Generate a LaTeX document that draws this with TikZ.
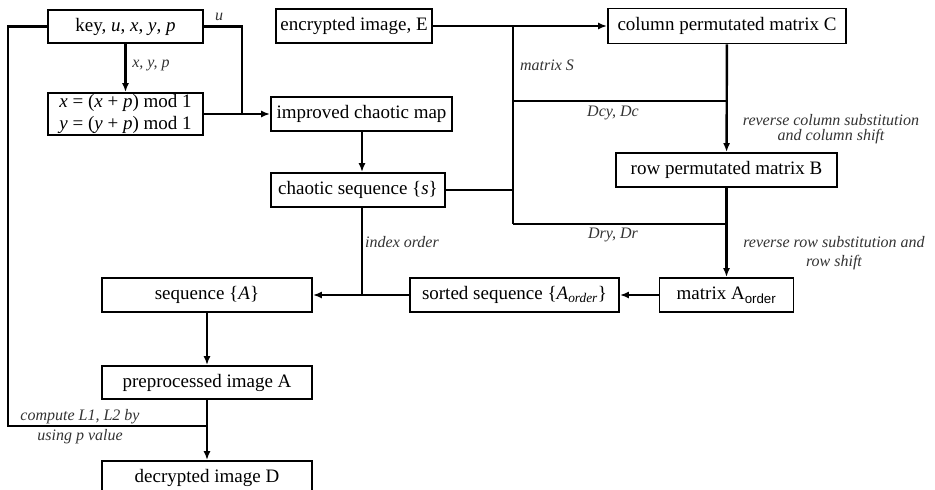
\documentclass[tikz,border=0pt]{standalone}
\usepackage{fontspec}
\setmainfont{Liberation Serif}
\setsansfont{Liberation Sans}
\usetikzlibrary{arrows.meta}
\begin{document}
\begin{tikzpicture}[x=1pt,y=-1pt,
  box/.style={draw, line width=1.8pt, inner sep=0pt, font=\fontsize{19}{22}\selectfont, align=center},
  lab/.style={font=\fontsize{16}{17}\selectfont\itshape, inner sep=0pt, text=black!80},
  conn/.style={line width=2.4pt},
  arr/.style={line width=2.4pt, -{Latex[length=9pt,width=7pt]}}]
\useasboundingbox (0,0) rectangle (935,490);
\clip (0,0) rectangle (935,490);
% boxes
\node[box, minimum width=155pt, minimum height=33pt] (key) at (125.5,26.5) {key, \textit{u}, \textit{x}, \textit{y}, \textit{p}};
\node[box, minimum width=155pt, minimum height=42pt] (mod) at (125.5,114) {\textit{x} = (\textit{x} + \textit{p}) mod 1\\ \textit{y} = (\textit{y} + \textit{p}) mod 1};
\node[box, minimum width=181pt, minimum height=34pt] (imp) at (361.5,114) {improved chaotic map};
\node[box, minimum width=156pt, minimum height=34pt] (enc) at (354,26) {encrypted image, E};
\node[box, minimum width=174pt, minimum height=34pt] (chs) at (358,190) {chaotic sequence \{\textit{s}\}};
\node[box, minimum width=238pt, minimum height=35pt] (colC) at (727,26) {column permutated matrix C};
\node[box, minimum width=221pt, minimum height=34pt] (rowB) at (726.5,170) {row permutated matrix B};
\node[box, minimum width=134pt, minimum height=34pt] (Aord) at (726.5,295) {matrix A\textsubscript{\sffamily order}};
\node[box, minimum width=209pt, minimum height=34pt] (sorted) at (514.5,295) {sorted sequence \{\textit{A\textsubscript{order}}\}};
\node[box, minimum width=210pt, minimum height=34pt] (seqA) at (207,295) {sequence \{\textit{A}\}};
\node[box, minimum width=210pt, minimum height=33pt] (pre) at (207,382.5) {preprocessed image A};
\node[box, minimum width=210pt, minimum height=34pt] (dec) at (207,478) {decrypted image D};
% junction coordinates
\coordinate (lc) at (8,426);
\coordinate (jL) at (207,426);
\coordinate (ju) at (242,114);
\coordinate (jtop) at (513,26);
\coordinate (jDc) at (513,101);
\coordinate (jS) at (513,190);
\coordinate (jbot) at (513,224);
\coordinate (kc) at (726.5,101);
\coordinate (kr) at (726.5,224);
\coordinate (ji) at (362,295);
% connectors
\draw[conn] (key.west) -| (lc) -- (jL);
\draw[arr] (pre) -- (dec);
\draw[arr] (key) -- (mod);
\draw[conn] (key.east) -| (ju);
\draw[arr] (mod.east) -- (imp.west);
\draw[arr] (imp.south -| ji) -- (ji |- chs.north);
\draw[arr] (enc.east) -- (colC.west);
\draw[conn] (jtop) -- (jbot);
\draw[conn] (chs.east) -- (jS);
\draw[conn] (jDc) -- (kc);
\draw[conn] (jbot) -- (kr);
\draw[arr] (colC) -- (rowB);
\draw[arr] (rowB) -- (Aord);
\draw[arr] (Aord) -- (sorted);
\draw[arr] (sorted) -- (seqA);
\draw[conn] (ji |- chs.south) -- (ji);
\draw[arr] (seqA) -- (pre);
% labels
\node[lab] (lu) at (219,17) {u};
\node[lab] (lxyp) at (151,65) {x, y, p};
\node[lab] (lS) at (547,65) {matrix S};
\node[lab] (lDc) at (613,113) {Dcy, Dc};
\node[lab] (lDr) at (613,235) {Dry, Dr};
\node[lab] (lc1) at (831,120) {reverse column substitution};
\node[lab] (lc2) at (831,137) {and column shift};
\node[lab] (lr1) at (834,242) {reverse row substitution and};
\node[lab] (lr2) at (834,263) {row shift};
\node[lab] (lidx) at (402,242) {index order};
\node[lab] (lL1) at (80,417) {compute L1, L2 by};
\node[lab] (lL2) at (80,437) {using p value};
\end{tikzpicture}
\end{document}
